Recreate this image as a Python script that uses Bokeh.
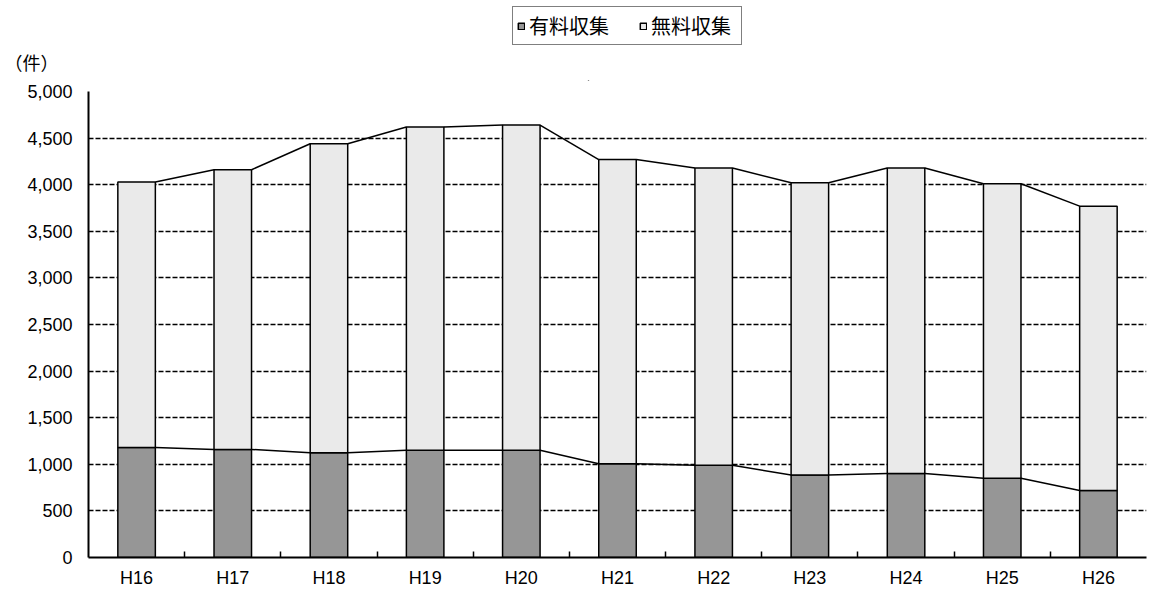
from bokeh.plotting import figure
from bokeh.layouts import column
from bokeh.models import (ColumnDataSource, FixedTicker, Legend, LegendItem,
                          Range1d, NumeralTickFormatter)
from bokeh.embed import file_html
from bokeh.resources import INLINE

categories = ["H16", "H17", "H18", "H19", "H20", "H21", "H22", "H23", "H24", "H25", "H26"]
paid = [1180, 1160, 1125, 1150, 1150, 1005, 990, 885, 900, 850, 720]
free = [2850, 3000, 3315, 3470, 3490, 3265, 3190, 3135, 3280, 3160, 3050]
y_ticks = [0, 500, 1000, 1500, 2000, 2500, 3000, 3500, 4000, 4500, 5000]
series_names = ["有料収集", "無料収集"]
series_colors = ["#969696", "#EAEAEA"]
unit_label = "（件）"

FONT = "Liberation Sans"
JP = "Noto Sans CJK JP"
W = 0.39
FIG_W = 1148
TOP_H = 81

xs = list(range(len(categories)))
total = [a + b for a, b in zip(paid, free)]
src = ColumnDataSource(dict(x=xs, paid=paid, total=total))

# ---------- header strip (legend + unit label) ----------
top = figure(width=FIG_W, height=TOP_H, output_backend="svg", toolbar_location=None,
             x_range=Range1d(0, 1058), y_range=Range1d(0, TOP_H),
             min_border_left=88, min_border_right=2, min_border_top=0, min_border_bottom=0)
top.xaxis.visible = False
top.grid.visible = False
top.outline_line_color = None
top.background_fill_color = "white"
top.border_fill_color = "white"

# unit label placed as the strip's single y tick label
top.yaxis.ticker = FixedTicker(ticks=[20], minor_ticks=[])
top.yaxis.major_label_overrides = {20: unit_label}
top.yaxis.axis_line_color = None
top.yaxis.major_tick_line_color = None
top.yaxis.minor_tick_line_color = None
top.yaxis.major_tick_out = 0
top.yaxis.major_tick_in = 0
top.yaxis.minor_tick_out = 0
top.yaxis.minor_tick_in = 0
top.yaxis.major_label_standoff = 30
top.yaxis.major_label_text_font = JP
top.yaxis.major_label_text_font_size = "18px"
top.yaxis.major_label_text_color = "black"

# legend proxies, kept well outside the visible strip
d1 = top.vbar(x=[500], bottom=[-200], top=[-190], width=1, fill_color=series_colors[0],
              line_color="black", line_width=1.5)
d2 = top.vbar(x=[500], bottom=[-200], top=[-190], width=1, fill_color=series_colors[1],
              line_color="black", line_width=1.5)

legend = Legend(items=[LegendItem(label=series_names[0], renderers=[d1]),
                       LegendItem(label=series_names[1], renderers=[d2])],
                location=(424, 36), orientation="horizontal",
                glyph_width=8, glyph_height=8, label_standoff=4, spacing=24,
                padding=4, margin=0, label_width=86, label_height=20,
                label_text_font=JP, label_text_font_size="20px", label_text_color="black",
                border_line_color="black", border_line_width=1.5,
                background_fill_color="white", background_fill_alpha=1)
top.add_layout(legend, "center")

# ---------- main chart ----------
p = figure(width=FIG_W, height=590 - TOP_H, output_backend="svg", toolbar_location=None,
           x_range=Range1d(-0.5, len(categories) - 0.5), y_range=Range1d(0, 5000),
           min_border_left=88, min_border_right=2, min_border_top=10, min_border_bottom=33)
p.outline_line_color = None
p.background_fill_color = "white"
p.border_fill_color = "white"

p.xgrid.grid_line_color = None
p.ygrid.grid_line_color = "black"
p.ygrid.grid_line_dash = "5 2"
p.ygrid.grid_line_width = 1.3

r1 = p.vbar(x="x", width=W, bottom=0, top="paid", source=src,
            fill_color=series_colors[0], line_color="black", line_width=1.5)
r2 = p.vbar(x="x", width=W, bottom="paid", top="total", source=src,
            fill_color=series_colors[1], line_color="black", line_width=1.5)

# series lines between bar tops
x0 = [i + W / 2 for i in xs[:-1]]
x1 = [i + 1 - W / 2 for i in xs[:-1]]
p.segment(x0=x0, y0=paid[:-1], x1=x1, y1=paid[1:], line_color="black", line_width=1.5)
p.segment(x0=x0, y0=total[:-1], x1=x1, y1=total[1:], line_color="black", line_width=1.5)

p.yaxis.ticker = FixedTicker(ticks=y_ticks)
p.yaxis.formatter = NumeralTickFormatter(format="0,0")
p.yaxis.major_tick_line_color = None
p.yaxis.minor_tick_line_color = None
p.yaxis.major_tick_out = 0
p.yaxis.major_tick_in = 0
p.yaxis.major_label_standoff = 16
p.yaxis.axis_line_width = 2
p.yaxis.axis_line_color = "black"
p.yaxis.major_label_text_font = FONT
p.yaxis.major_label_text_font_size = "18px"
p.yaxis.major_label_text_color = "black"

p.xaxis.ticker = FixedTicker(ticks=xs, minor_ticks=[i + 0.5 for i in xs[:-1]])
p.xaxis.major_label_overrides = {i: c for i, c in zip(xs, categories)}
p.xaxis.major_tick_line_color = None
p.xaxis.major_tick_out = 0
p.xaxis.major_tick_in = 0
p.xaxis.minor_tick_line_color = "black"
p.xaxis.minor_tick_line_width = 1.5
p.xaxis.minor_tick_in = 6
p.xaxis.minor_tick_out = 0
p.xaxis.major_label_standoff = 10
p.xaxis.axis_line_width = 2
p.xaxis.axis_line_color = "black"
p.xaxis.major_label_text_font = FONT
p.xaxis.major_label_text_font_size = "18px"
p.xaxis.major_label_text_color = "black"

layout = column(top, p, spacing=0)
open("out.html", "w").write(file_html(layout, INLINE))
